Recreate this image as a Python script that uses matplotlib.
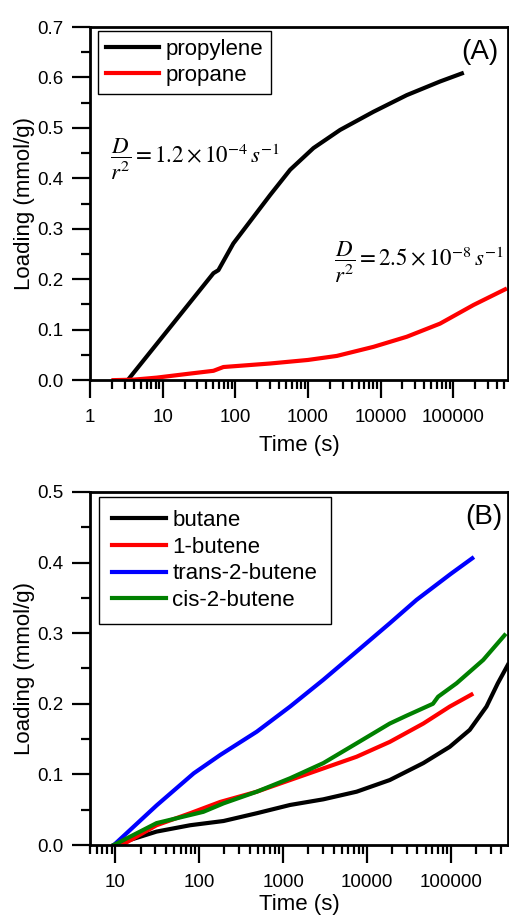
import matplotlib
matplotlib.use('Agg')
from matplotlib import pyplot as plt
from matplotlib.ticker import FixedLocator, LogLocator, MultipleLocator, NullFormatter

plt.rcParams['font.family'] = ['Liberation Sans', 'DejaVu Sans']
plt.rcParams['mathtext.fontset'] = 'stix'

# Panel A: C3 uptake
propylene_t = [3.3, 50, 58.5, 94, 302, 569, 1192, 2776, 8000, 23000, 66000, 132000]
propylene_q = [0.0, 0.212, 0.218, 0.271, 0.367, 0.417, 0.46, 0.496, 0.532, 0.565, 0.592, 0.608]
propane_t = [2.1, 4, 8.3, 23.8, 50, 68.6, 302, 1000, 2500, 8000, 23000, 66000, 191000, 520000]
propane_q = [0.0, 0.001, 0.005, 0.013, 0.0185, 0.026, 0.033, 0.040, 0.048, 0.066, 0.086, 0.112, 0.149, 0.180]

# Panel B: C4 uptake
butane_t = [9.6, 31, 78, 195, 486, 1211, 3020, 7530, 18700, 47000, 97000, 168000, 266000, 363000, 478000]
butane_q = [0.0, 0.019, 0.028, 0.034, 0.045, 0.0567, 0.0647, 0.0755, 0.092, 0.116, 0.139, 0.163, 0.196, 0.229, 0.255]
butene1_t = [12, 31, 78, 178, 486, 1211, 3020, 7530, 18700, 47000, 97000, 176000]
butene1_q = [0.0, 0.028, 0.045, 0.061, 0.0755, 0.092, 0.1085, 0.125, 0.146, 0.172, 0.196, 0.213]
trans_t = [9.6, 31, 86, 178, 486, 1211, 3020, 7530, 18700, 38900, 100000, 180000]
trans_q = [0.0, 0.056, 0.1015, 0.1275, 0.1605, 0.196, 0.234, 0.274, 0.314, 0.347, 0.384, 0.406]
cis_t = [9.6, 31, 112, 195, 486, 1211, 3020, 7530, 18700, 29500, 61200, 70500, 117000, 243000, 437000]
cis_q = [0.0, 0.031, 0.047, 0.059, 0.0755, 0.0945, 0.116, 0.144, 0.172, 0.183, 0.200, 0.210, 0.229, 0.262, 0.297]

fig = plt.figure(figsize=(5.09, 9.16), dpi=100)
ax1 = fig.add_axes([0.177, 0.585, 0.821, 0.3855])
ax2 = fig.add_axes([0.177, 0.0775, 0.821, 0.3855])


def style_axis(ax, xlim, ylim, xticks, xlabelpad):
    ax.set_xscale('log')
    ax.set_xlim(*xlim)
    ax.set_ylim(*ylim)
    ax.xaxis.set_major_locator(FixedLocator(xticks))
    ax.set_xticklabels([str(t) for t in xticks])
    ax.xaxis.set_minor_locator(LogLocator(base=10, subs=range(2, 10), numticks=20))
    ax.xaxis.set_minor_formatter(NullFormatter())
    ax.yaxis.set_major_locator(MultipleLocator(0.1))
    ax.yaxis.set_minor_locator(MultipleLocator(0.05))
    ax.yaxis.set_major_formatter(plt.FormatStrFormatter('%.1f'))
    for s in ax.spines.values():
        s.set_linewidth(2)
    ax.tick_params(which='major', direction='out', length=13, width=1.6, labelsize=13.5)
    ax.tick_params(which='minor', direction='out', length=6.5, width=1.6)
    ax.tick_params(axis='x', which='major', pad=8)
    ax.tick_params(axis='y', which='major', pad=6.5)
    ax.set_xlabel('Time (s)', fontsize=16, labelpad=xlabelpad)
    ax.set_ylabel('Loading (mmol/g)', fontsize=16, labelpad=1)


def add_legend(ax, anchor, borderpad):
    leg = ax.legend(loc='upper left', bbox_to_anchor=anchor, borderaxespad=0, fontsize=16,
                    frameon=True, fancybox=False, edgecolor='black', framealpha=1,
                    handlelength=2.4, labelspacing=0.25, borderpad=borderpad, handletextpad=0.3)
    leg.get_frame().set_linewidth(1.0)


style_axis(ax1, (1, 5.7e5), (0, 0.7), [1, 10, 100, 1000, 10000, 100000], 6)
ax1.plot(propylene_t, propylene_q, color='black', linewidth=3, label='propylene')
ax1.plot(propane_t, propane_q, color='red', linewidth=3, label='propane')
add_legend(ax1, (0.019, 0.989), 0.35)
ax1.text(0.978, 0.929, '(A)', transform=ax1.transAxes, ha='right', va='center', fontsize=20)
ax1.text(0.048, 0.625, r'$\dfrac{D}{r^2}=1.2\times10^{-4}\,s^{-1}$', transform=ax1.transAxes,
         fontsize=16.5, va='center', ha='left')
ax1.text(0.583, 0.333, r'$\dfrac{D}{r^2}=2.5\times10^{-8}\,s^{-1}$', transform=ax1.transAxes,
         fontsize=16.5, va='center', ha='left')

style_axis(ax2, (5, 4.8e5), (0, 0.5), [10, 100, 1000, 10000, 100000], 2)
ax2.plot(butane_t, butane_q, color='black', linewidth=3, label='butane')
ax2.plot(butene1_t, butene1_q, color='red', linewidth=3, label='1-butene')
ax2.plot(trans_t, trans_q, color='blue', linewidth=3, label='trans-2-butene')
ax2.plot(cis_t, cis_q, color='green', linewidth=3, label='cis-2-butene')
add_legend(ax2, (0.0215, 0.986), 0.6)
ax2.text(0.986, 0.929, '(B)', transform=ax2.transAxes, ha='right', va='center', fontsize=20)

fig.savefig('out.png', dpi=100)
